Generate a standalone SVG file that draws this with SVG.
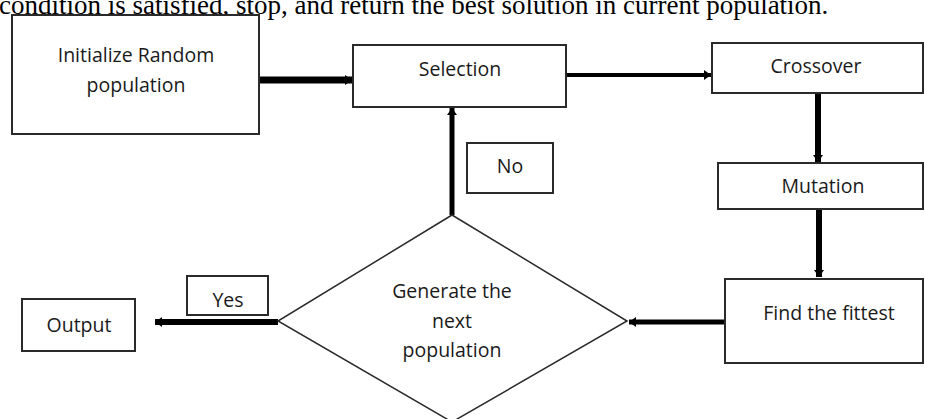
<svg xmlns="http://www.w3.org/2000/svg" width="925" height="419" viewBox="0 0 925 419">
  <style>
    .box { fill: #fff; stroke: #2a2a2a; stroke-width: 2; }
    .dia { fill: #fff; stroke: #2a2a2a; stroke-width: 1.5; }
    .lbl { font-family: "Open Sans", "Liberation Sans", sans-serif; font-size: 19.5px; fill: #1a1a1a; text-anchor: middle; }
    .cap { font-family: "Liberation Serif", "Times New Roman", serif; font-size: 27px; fill: #000; }
    .arr { stroke: #000; fill: none; }
  </style>
  <defs>
    <marker id="ah" markerUnits="userSpaceOnUse" markerWidth="12" markerHeight="12" refX="7" refY="6" orient="auto">
      <path d="M0,1 L7,6 L0,11 Z" fill="#000"/>
    </marker>
  </defs>
  <text class="cap" x="-1" y="14">condition is satisfied, stop, and return the best solution in current population.</text>

  <g id="connectors">
    <line class="arr" x1="259" y1="80" x2="352" y2="80" stroke-width="7" marker-end="url(#ah)"/>
    <line class="arr" x1="566" y1="75" x2="711" y2="75" stroke-width="4" marker-end="url(#ah)"/>
    <line class="arr" x1="818" y1="93" x2="818" y2="162" stroke-width="6" marker-end="url(#ah)"/>
    <line class="arr" x1="819" y1="209" x2="819" y2="277" stroke-width="6" marker-end="url(#ah)"/>
    <line class="arr" x1="725" y1="322" x2="629" y2="322" stroke-width="5" marker-end="url(#ah)"/>
    <line class="arr" x1="278" y1="322" x2="155" y2="322" stroke-width="6" marker-end="url(#ah)"/>
    <line class="arr" x1="452" y1="215" x2="452" y2="108" stroke-width="5" marker-end="url(#ah)"/>
  </g>

  <g id="init">
    <rect class="box" x="12" y="15" width="247" height="119"/>
    <text class="lbl" x="136" y="62">Initialize Random</text>
    <text class="lbl" x="136" y="92">population</text>
  </g>
  <g id="selection">
    <rect class="box" x="353" y="45" width="213" height="62"/>
    <text class="lbl" x="460" y="76">Selection</text>
  </g>
  <g id="crossover">
    <rect class="box" x="712" y="43" width="211" height="50"/>
    <text class="lbl" x="816" y="73">Crossover</text>
  </g>
  <g id="mutation">
    <rect class="box" x="718" y="163" width="205" height="46"/>
    <text class="lbl" x="823" y="193">Mutation</text>
  </g>
  <g id="fittest">
    <rect class="box" x="725" y="279" width="198" height="84"/>
    <text class="lbl" x="829" y="320">Find the fittest</text>
  </g>
  <g id="decision">
    <polygon class="dia" points="452,215 627,321 452,422 278,321"/>
    <text class="lbl" x="452" y="298">Generate the</text>
    <text class="lbl" x="452" y="328">next</text>
    <text class="lbl" x="452" y="357">population</text>
  </g>
  <g id="no">
    <rect class="box" x="467" y="143" width="86" height="50"/>
    <text class="lbl" x="510" y="173">No</text>
  </g>
  <g id="yes">
    <rect class="box" x="187" y="276" width="81" height="39"/>
    <text class="lbl" x="228" y="307">Yes</text>
  </g>
  <g id="output">
    <rect class="box" x="22" y="299" width="113" height="52"/>
    <text class="lbl" x="79" y="332">Output</text>
  </g>
</svg>
